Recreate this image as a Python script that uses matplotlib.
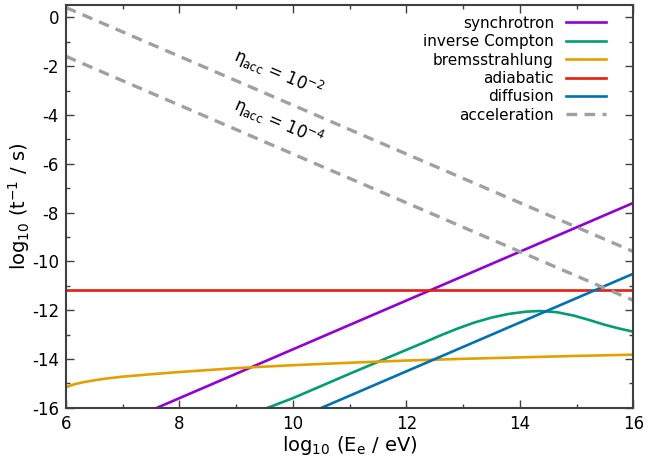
import numpy as np
import matplotlib.pyplot as plt
from matplotlib.ticker import MultipleLocator
plt.switch_backend('agg')

plt.rcParams['font.family'] = ['DejaVu Sans']
plt.rcParams['mathtext.default'] = 'regular'
plt.rcParams['axes.unicode_minus'] = False

# values (log10 E_e in eV, log10 rate in 1/s)
sync_x = [7.6, 16.0]
sync_y = [-16.0, -7.6]

ic_x = [9.55, 10.0, 11.0, 12.0, 12.3, 12.6, 12.9, 13.2, 13.5, 13.8, 14.1, 14.35, 14.65, 14.95, 15.25, 15.5, 15.75, 16.0]
ic_y = [-16.0, -15.6, -14.6, -13.62, -13.33, -13.03, -12.75, -12.5, -12.3, -12.15, -12.06, -12.03, -12.08, -12.22, -12.42, -12.6, -12.75, -12.88]

brems_x = [6.0, 6.15, 6.3, 6.5, 6.7, 7.0, 7.5, 8.0, 9.0, 10.0, 11.0, 12.0, 13.0, 14.0, 15.0, 16.0]
brems_y = [-15.15, -15.03, -14.95, -14.87, -14.8, -14.72, -14.62, -14.53, -14.37, -14.25, -14.15, -14.06, -13.99, -13.93, -13.87, -13.82]

adiab_x = [6.0, 16.0]
adiab_y = [-11.15, -11.15]

diff_x = [10.5, 16.0]
diff_y = [-16.0, -10.5]

acc2_x = [6.0, 16.0]
acc2_y = [0.4, -9.6]
acc4_x = [6.0, 16.0]
acc4_y = [-1.6, -11.6]


def main():
    fig = plt.figure(figsize=(6.63, 4.63), dpi=100)
    ax = fig.add_axes([0.0995, 0.119, 0.856, 0.870])

    lw = 1.9
    ax.plot(sync_x, sync_y, color='#9400d3', lw=lw, label='synchrotron')
    ax.plot(ic_x, ic_y, color='#009e73', lw=lw, label='inverse Compton')
    ax.plot(brems_x, brems_y, color='#e69f00', lw=lw, label='bremsstrahlung')
    ax.plot(adiab_x, adiab_y, color='#e51e10', lw=lw, label='adiabatic')
    ax.plot(diff_x, diff_y, color='#0072b2', lw=lw, label='diffusion')
    ax.plot(acc2_x, acc2_y, color='#a0a0a0', lw=2.4, dashes=(3.2, 2.2), label='acceleration')
    ax.plot(acc4_x, acc4_y, color='#a0a0a0', lw=2.4, dashes=(3.2, 2.2))

    ax.text(9.74, -2.3, r'$\eta_{acc}$ = 10$^{-2}$', rotation=-23, ha='center', va='center', fontsize=12)
    ax.text(9.74, -4.3, r'$\eta_{acc}$ = 10$^{-4}$', rotation=-23, ha='center', va='center', fontsize=12)

    ax.set_xlim(6, 16)
    ax.set_ylim(-16, 0.5)
    ax.xaxis.set_major_locator(MultipleLocator(2))
    ax.xaxis.set_minor_locator(MultipleLocator(1))
    ax.yaxis.set_major_locator(MultipleLocator(2))
    ax.yaxis.set_minor_locator(MultipleLocator(1))
    ax.tick_params(which='both', direction='in', top=True, right=True, labelsize=12, color='#404040', width=1)
    ax.tick_params(which='major', length=6, pad=5)
    ax.tick_params(which='minor', length=3)
    for s in ax.spines.values():
        s.set_linewidth(1.5)
        s.set_color('#404040')

    ax.set_xlabel(r'log$_{10}$ (E$_e$ / eV)', fontsize=14, labelpad=1)
    ax.set_ylabel(r'log$_{10}$ (t$^{-1}$ / s)', fontsize=14, labelpad=0)

    leg = ax.legend(loc='upper right', frameon=False, markerfirst=False, fontsize=11,
                    handlelength=2.6, labelspacing=0.22, borderaxespad=0.3,
                    bbox_to_anchor=(0.97, 1.0))
    for t in leg.get_texts():
        t.set_ha('right')
    leg._legend_box.align = 'right'

    fig.savefig('out.png', dpi=100)
    plt.close(fig)


if __name__ == '__main__':
    main()
